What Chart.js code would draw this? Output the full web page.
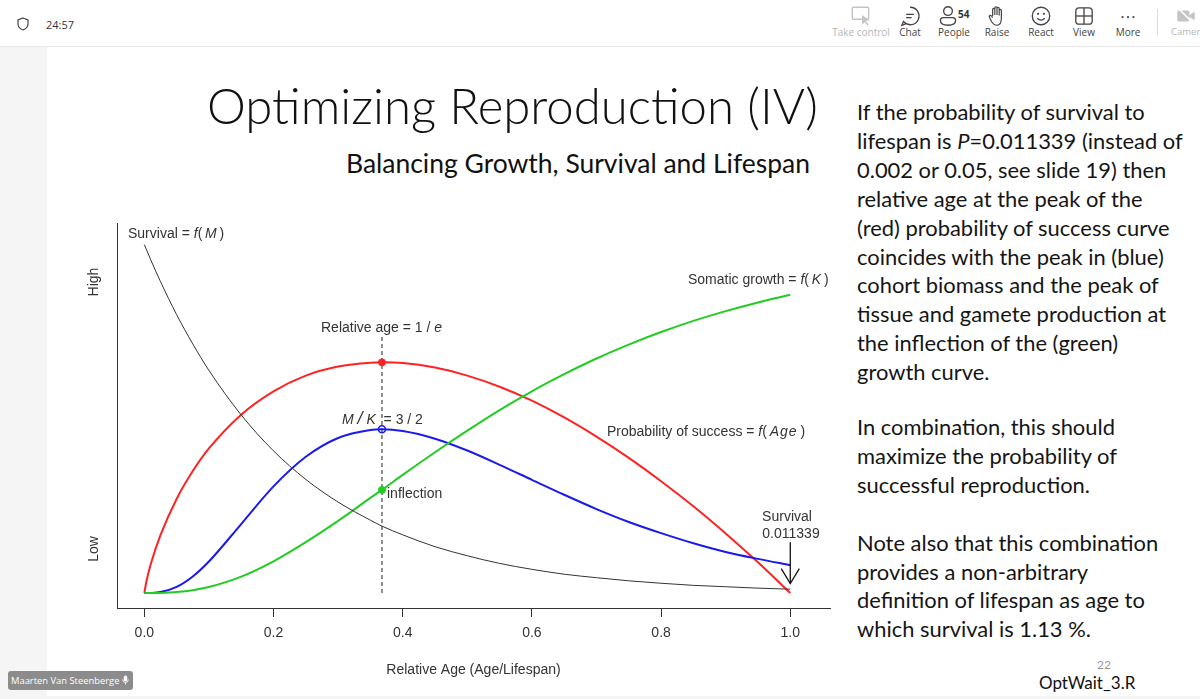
<!DOCTYPE html>
<html lang="en">
<head>
    <meta charset="UTF-8">
    <title>Optimizing Reproduction (IV)</title>
    <style>
        body {
            margin: 0;
            width: 1200px;
            height: 699px;
            overflow: hidden;
            position: relative;
            background-color: #f5f5f5;
            font-family: "Open Sans", "Noto Sans", sans-serif;
        }
        .abs { position: absolute; white-space: nowrap; }
        #topbar {
            position: absolute; left: 0; top: 0; width: 1200px; height: 46px;
            background: #fff; border-bottom: 1px solid #e8e8e8;
        }
        .tb { position: absolute; top: 25px; width: 60px; margin-left: -30px; text-align: center;
              font-size: 10px; color: #444; }
        .tb.off { color: #b5b5b5; }
        .ic { position: absolute; top: 4px; width: 24px; height: 24px; margin-left: -12px; }
        #slide {
            position: absolute; left: 47px; top: 47px; width: 1153px; height: 649px; background: #fff;
        }
        #title { font-family: Lato, "Open Sans", sans-serif; font-weight: 300; color: #111; }
        #subtitle { font-family: Lato, "Open Sans", sans-serif; color: #111; }
        .para { position: absolute; left: 857px; font-family: Lato, "Open Sans", sans-serif;
                line-height: 28.9px; color: #151515; white-space: nowrap; }
        .lab { position: absolute; white-space: nowrap; font-family: "Liberation Sans", Arial, sans-serif;
               font-size: 14px; line-height: 16px; color: #333; }
        .rot { width: 60px; height: 16px; text-align: center; transform: rotate(-90deg); }
        #chartBox { position: absolute; left: 60px; top: 200px; width: 800px; height: 480px; }
        #badge {
            position: absolute; left: 8px; top: 671px; width: 125px; height: 19px; border-radius: 3px;
            background: #8c8c8c; color: #fff; font-size: 9.4px; line-height: 19px; padding-left: 3px;
            box-sizing: border-box; white-space: nowrap; overflow: hidden;
        }
    </style>
    <script src="https://cdn.jsdelivr.net/npm/chart.js"></script>
</head>
<body>
    <div id="topbar">
        <svg class="abs" style="left:17px;top:17px" width="12" height="14" viewBox="0 0 12 14">
            <path d="M6 1 L11 3 L11 7 C11 10 8.5 12 6 13 C3.5 12 1 10 1 7 L1 3 Z" fill="none" stroke="#444" stroke-width="1.2"/>
        </svg>
        <div class="abs" style="left:46px;top:17px;font-size:11px;color:#333">24:57</div>

        <svg class="ic" style="left:861px" viewBox="0 0 22 22">
            <rect x="3" y="3" width="15" height="11" rx="1" fill="none" stroke="#c4c4c4" stroke-width="1.3"/>
            <path d="M12 10 L12 19 L14.5 16.5 L17 20 L18 19 L15.5 15.5 L19 15 Z" fill="#c4c4c4"/>
        </svg>
        <div class="tb off" style="left:861px">Take control</div>

        <svg class="ic" style="left:910px" viewBox="0 0 22 22">
            <path d="M11 3 A8 8 0 1 1 5 16 L3.5 19.5 L7.5 18 A8 8 0 0 0 11 19" fill="none" stroke="#444" stroke-width="1.2"/>
            <line x1="7.5" y1="9.5" x2="14.5" y2="9.5" stroke="#444" stroke-width="1.2"/>
            <line x1="7.5" y1="12.5" x2="12.5" y2="12.5" stroke="#444" stroke-width="1.2"/>
        </svg>
        <div class="tb" style="left:910px">Chat</div>

        <svg class="ic" style="left:948px" viewBox="0 0 22 22">
            <circle cx="11" cy="6.5" r="4" fill="none" stroke="#444" stroke-width="1.2"/>
            <path d="M4 15 Q4 12.5 7 12.5 L15 12.5 Q18 12.5 18 15 Q18 19.5 11 19.5 Q4 19.5 4 15 Z" fill="none" stroke="#444" stroke-width="1.2"/>
        </svg>
        <div class="abs" style="left:958px;top:7px;font-size:10px;font-weight:bold;color:#333">54</div>
        <div class="tb" style="left:954px">People</div>

        <svg class="ic" style="left:997px" viewBox="0 0 22 22">
            <path d="M7 11 L7 5 Q7 4 8 4 Q9 4 9 5 L9 10 L9 3.5 Q9 2.5 10 2.5 Q11 2.5 11 3.5 L11 10 L11 4 Q11 3 12 3 Q13 3 13 4 L13 10.5 L13 6 Q13 5 14 5 Q15 5 15 6 L15 13 Q15 19 11 19.5 Q8 19.5 6 16 L4 12 Q3.5 10.5 5 10.5 Q6 10.5 7 12.5"
                  fill="none" stroke="#444" stroke-width="1.1"/>
        </svg>
        <div class="tb" style="left:997px">Raise</div>

        <svg class="ic" style="left:1041px" viewBox="0 0 22 22">
            <circle cx="11" cy="11" r="8" fill="none" stroke="#444" stroke-width="1.2"/>
            <circle cx="8.3" cy="9" r="1" fill="#444"/>
            <circle cx="13.7" cy="9" r="1" fill="#444"/>
            <path d="M7.5 13 Q11 16.5 14.5 13" fill="none" stroke="#444" stroke-width="1.2"/>
        </svg>
        <div class="tb" style="left:1041px">React</div>

        <svg class="ic" style="left:1084px" viewBox="0 0 22 22">
            <rect x="3.5" y="3.5" width="15" height="15" rx="3" fill="none" stroke="#444" stroke-width="1.2"/>
            <line x1="11" y1="3.5" x2="11" y2="18.5" stroke="#444" stroke-width="1.2"/>
            <line x1="3.5" y1="11" x2="18.5" y2="11" stroke="#444" stroke-width="1.2"/>
        </svg>
        <div class="tb" style="left:1084px">View</div>

        <svg class="ic" style="left:1128px" viewBox="0 0 22 22">
            <circle cx="6" cy="12" r="1" fill="#444"/>
            <circle cx="11" cy="12" r="1" fill="#444"/>
            <circle cx="16" cy="12" r="1" fill="#444"/>
        </svg>
        <div class="tb" style="left:1128px">More</div>

        <div class="abs" style="left:1157px;top:9px;width:1px;height:26px;background:#ddd"></div>
        <svg class="ic" style="left:1186px" viewBox="0 0 22 22">
            <rect x="3" y="6" width="11" height="10" rx="1.5" fill="#c4c4c4"/>
            <path d="M14 10 L19 7 L19 15 L14 12 Z" fill="#c4c4c4"/>
            <line x1="3" y1="3" x2="19" y2="19" stroke="#fff" stroke-width="1.5"/>
        </svg>
        <div class="abs" style="left:1171px;top:25px;font-size:9.5px;color:#b5b5b5">Camera</div>
    </div>

    <div id="slide"></div>

    <div class="abs" id="title" style="left:207px;top:70px;font-size:56px;line-height:70px">Optimizing Reproduction (IV)</div>
    <div class="abs" id="subtitle" style="left:346px;top:147px;font-size:24px;line-height:32px">Balancing Growth, Survival and Lifespan</div>

    <div class="para" id="para1" style="top:98px;font-size:23px">
        If the probability of survival to<br>
        <span id="fitLine">lifespan is <i>P</i>=0.011339 (instead of</span><br>
        0.002 or 0.05, see slide 19) then<br>
        relative age at the peak of the<br>
        (red) probability of success curve<br>
        coincides with the peak in (blue)<br>
        cohort biomass and the peak of<br>
        tissue and gamete production at<br>
        the inflection of the (green)<br>
        growth curve.
    </div>
    <div class="para" id="para2" style="top:413px;font-size:23px">
        In combination, this should<br>
        maximize the probability of<br>
        successful reproduction.<br>
        <br>
        Note also that this combination<br>
        provides a non-arbitrary<br>
        definition of lifespan as age to<br>
        which survival is 1.13 %.
    </div>

    <div class="abs" style="left:1097px;top:657px;font-size:12px;color:#999;font-family:Lato,sans-serif">22</div>
    <div class="abs" style="left:1039px;top:672px;font-size:17px;color:#111;font-family:Lato,sans-serif">OptWait_3.R</div>

    <div id="chartBox"><canvas id="optChart" width="800" height="480"></canvas></div>

    <!-- text drawn in the plot region -->
    <div class="lab" style="left:128px;top:225px">Survival = <i>f</i>(&thinsp;<i>M</i>&thinsp;)</div>
    <div class="lab" style="left:321px;top:319px">Relative age = 1 / <i>e</i></div>
    <div class="lab" style="left:342px;top:410px"><i>M</i> <span style="font-size:18px;font-style:italic">/</span> <i>K</i> &nbsp;= 3 / 2</div>
    <div class="lab" style="left:387px;top:485px">inflection</div>
    <div class="lab" style="left:688px;top:271px">Somatic growth = <i>f</i>(&thinsp;<i>K</i>&thinsp;)</div>
    <div class="lab" style="left:607px;top:423px">Probability of success = <i>f</i>(&thinsp;<i style="letter-spacing:1px">Age</i>&thinsp;)</div>
    <div class="lab" style="left:740px;top:508px;width:94px;text-align:center">Survival</div>
    <div class="lab" style="left:744px;top:525px;width:94px;text-align:center">0.011339</div>
    <div class="lab rot" style="left:63px;top:274px">High</div>
    <div class="lab rot" style="left:63px;top:541px">Low</div>

    <div id="badge">Maarten Van Steenberge
        <svg width="7" height="10" viewBox="0 0 7 10" style="vertical-align:-1px">
            <rect x="1.8" y="0.5" width="3.4" height="6" rx="1.7" fill="#fff"/>
            <path d="M0.7 4.5 Q0.7 7.5 3.5 7.5 Q6.3 7.5 6.3 4.5" fill="none" stroke="#fff" stroke-width="0.9"/>
            <line x1="3.5" y1="7.5" x2="3.5" y2="9.5" stroke="#fff" stroke-width="0.9"/>
        </svg>
    </div>

    <script>
        // relative age (age / lifespan) at which the curves were read
        const ages = [0, 0.003, 0.01, 0.025, 0.05, 0.075, 0.1, 0.15, 0.2, 0.25, 0.3, 0.35, 0.3679,
                      0.4, 0.45, 0.5, 0.55, 0.6, 0.65, 0.7, 0.75, 0.8, 0.85, 0.9, 0.95, 1.0];
        // black: survival
        const survival = [1, 0.987, 0.956, 0.894, 0.799, 0.715, 0.639, 0.511, 0.408, 0.326, 0.261, 0.209, 0.192,
                          0.167, 0.133, 0.107, 0.085, 0.068, 0.054, 0.044, 0.035, 0.028, 0.022, 0.018, 0.014, 0.011];
        // green: somatic growth
        const growth = [0, 0, 0.00003, 0.0004, 0.0027, 0.0081, 0.0172, 0.047, 0.091, 0.146, 0.207, 0.273, 0.296,
                        0.339, 0.404, 0.466, 0.525, 0.579, 0.628, 0.673, 0.713, 0.749, 0.781, 0.809, 0.834, 0.856];
        // blue: cohort biomass
        const biomass = [0, 0, 0.0002, 0.0027, 0.0176, 0.0476, 0.0905, 0.198, 0.306, 0.391, 0.445, 0.468, 0.470,
                         0.465, 0.443, 0.409, 0.368, 0.325, 0.282, 0.241, 0.204, 0.172, 0.143, 0.118, 0.098, 0.080];
        // red: probability of success
        const success = [0, 0.031, 0.083, 0.166, 0.270, 0.350, 0.415, 0.512, 0.579, 0.624, 0.650, 0.661, 0.662,
                         0.660, 0.647, 0.624, 0.592, 0.552, 0.504, 0.449, 0.388, 0.321, 0.249, 0.171, 0.088, 0];

        const peakAge = 0.3679;           // 1 / e
        const dashLineY = [0, 0.74];
        const arrowShaftY = [0.146, 0.027];
        const arrowHeadX = [0.986, 1.0, 1.014];
        const arrowHeadY = [0.070, 0.027, 0.070];
        const tickValues = [0, 0.2, 0.4, 0.6, 0.8, 1.0];

        // fit slide text widths to the reference
        function fitWidth(el, target, measure) {
            const m = measure || el;
            const fs = parseFloat(getComputedStyle(el).fontSize);
            const w = m.getBoundingClientRect().width;
            el.style.fontSize = (fs * target / w) + 'px';
        }
        fitWidth(document.getElementById('title'), 611);
        fitWidth(document.getElementById('subtitle'), 464);
        const p1 = document.getElementById('para1');
        fitWidth(p1, 326, document.getElementById('fitLine'));
        document.getElementById('para2').style.fontSize = p1.style.fontSize;

        function pts(ys) {
            return ages.map((a, i) => ({ x: a, y: ys[i] }));
        }
        function curve(label, ys, color, width) {
            return {
                label: label, data: pts(ys), borderColor: color, borderWidth: width,
                pointRadius: 0, cubicInterpolationMode: 'monotone', fill: false, order: 2
            };
        }

        Chart.defaults.font.family = "'Liberation Sans', Arial, sans-serif";
        Chart.defaults.color = '#333';

        const ctx = document.getElementById('optChart').getContext('2d');
        new Chart(ctx, {
            type: 'line',
            data: {
                datasets: [
                    curve('Survival', survival, '#333333', 1),
                    curve('Somatic growth', growth, '#22cc22', 2),
                    curve('Cohort biomass', biomass, '#1a1aee', 2),
                    curve('Probability of success', success, '#ff2222', 2),
                    {
                        label: 'Relative age = 1/e',
                        data: dashLineY.map(v => ({ x: peakAge, y: v })),
                        borderColor: '#222', borderWidth: 1, borderDash: [4, 3],
                        pointRadius: 0, order: 3
                    },
                    {
                        label: 'peaks',
                        data: [{ x: peakAge, y: success[12] }, { x: peakAge, y: growth[12] }],
                        showLine: false, pointRadius: 3.5,
                        pointBackgroundColor: ['#ff2222', '#22cc22'],
                        pointBorderColor: ['#ff2222', '#22cc22'], order: 0
                    },
                    {
                        label: 'biomass peak',
                        data: [{ x: peakAge, y: biomass[12] }],
                        showLine: false, pointRadius: 3.5, pointBorderWidth: 1.6,
                        pointBackgroundColor: 'rgba(0,0,0,0)', pointBorderColor: '#1a1aee', order: 0
                    },
                    {
                        label: 'arrow',
                        data: arrowShaftY.map(v => ({ x: 1.0, y: v })),
                        borderColor: '#111', borderWidth: 1.3, pointRadius: 0, order: 1
                    },
                    {
                        label: 'arrow head',
                        data: arrowHeadX.map((v, i) => ({ x: v, y: arrowHeadY[i] })),
                        borderColor: '#111', borderWidth: 1.3, pointRadius: 0, order: 1
                    }
                ]
            },
            options: {
                responsive: false,
                animation: false,
                layout: { padding: { left: 0, top: 23, right: 30, bottom: 0 } },
                plugins: { legend: { display: false }, tooltip: { enabled: false } },
                scales: {
                    x: {
                        type: 'linear',
                        min: -0.0423,
                        max: 1.0615,
                        afterBuildTicks: s => { s.ticks = tickValues.map(v => ({ value: v })); },
                        afterFit: s => { s.height = 72; },
                        border: { display: true, color: '#333', width: 1 },
                        grid: { drawOnChartArea: false, drawTicks: true, tickLength: 9, tickColor: '#333' },
                        ticks: {
                            padding: 8, color: '#333', font: { size: 14 },
                            maxRotation: 0, callback: v => v.toFixed(1)
                        },
                        title: {
                            display: true, text: 'Relative Age (Age/Lifespan)', color: '#333',
                            font: { size: 14 }, padding: { top: 4, bottom: 1 }
                        }
                    },
                    y: {
                        type: 'linear',
                        min: -0.043,
                        max: 1.062,
                        afterFit: s => { s.width = 57; },
                        border: { display: true, color: '#333', width: 1 },
                        grid: { display: false },
                        ticks: { display: false }
                    }
                }
            }
        });
    </script>
</body>
</html>
